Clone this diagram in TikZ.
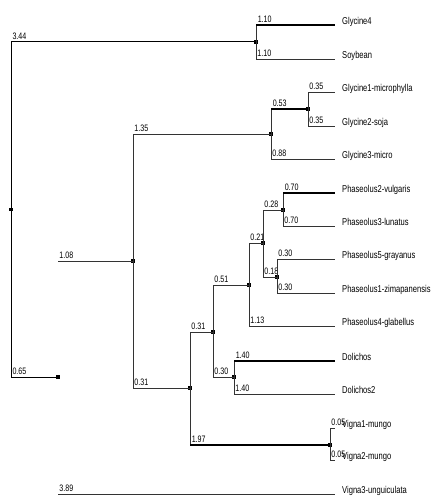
\documentclass[tikz,border=0pt]{standalone}
\usepackage{fontspec}
\newfontfamily\treefont[FakeStretch=0.76]{Liberation Sans}
\begin{document}
\begin{tikzpicture}[x=1bp,y=-1bp,
  br/.style={draw=black!80, line width=0.8bp},
  thk/.style={draw=black, line width=1.5bp},
  dot/.style={rectangle, fill=black, inner sep=0pt, minimum size=3.2bp},
  lbl/.style={font=\treefont\fontsize{9.4}{10}\selectfont, inner sep=0pt, anchor=south west, xshift=1bp, yshift=1.6bp},
  leaf/.style={font=\treefont\fontsize{10}{11}\selectfont, inner sep=0pt, anchor=base west, xshift=7bp, yshift=0.5bp}]
\useasboundingbox (0,0) rectangle (433,503);
% internal nodes
\node[dot] (R)   at (11,209.5) {};
\node[dot] (N0)  at (58,377) {};
\node[dot] (N1)  at (256,42) {};
\node[dot] (N2)  at (133,261) {};
\node[dot] (N3)  at (271,134) {};
\node[dot] (N5)  at (308,109) {};
\node[dot] (N4)  at (190,388) {};
\node[dot] (N6)  at (213,332) {};
\node[dot] (N8)  at (249,285) {};
\node[dot] (N10) at (263,243) {};
\node[dot] (N11) at (283,210) {};
\node[dot] (N12) at (277,277) {};
\node[dot] (N9)  at (234,377) {};
\node[dot] (N7)  at (330,445) {};
% leaf tips
\coordinate (g4) at (335,25);
\coordinate (sb) at (335,59);
\coordinate (g1) at (335,92);
\coordinate (g2) at (335,126);
\coordinate (g3) at (335,159);
\coordinate (p2) at (335,193);
\coordinate (p3) at (335,226);
\coordinate (p5) at (335,259);
\coordinate (p1) at (335,293);
\coordinate (p4) at (335,326);
\coordinate (d1) at (335,361);
\coordinate (d2) at (335,394);
\coordinate (v1) at (335,428);
\coordinate (v2) at (335,460);
\coordinate (v3) at (335,494);
% leaf texts
\node[leaf] (tg4) at (g4) {Glycine4};
\node[leaf] (tsb) at (sb) {Soybean};
\node[leaf] (tg1) at (g1) {Glycine1-microphylla};
\node[leaf] (tg2) at (g2) {Glycine2-soja};
\node[leaf] (tg3) at (g3) {Glycine3-micro};
\node[leaf] (tp2) at (p2) {Phaseolus2-vulgaris};
\node[leaf] (tp3) at (p3) {Phaseolus3-lunatus};
\node[leaf] (tp5) at (p5) {Phaseolus5-grayanus};
\node[leaf] (tp1) at (p1) {Phaseolus1-zimapanensis};
\node[leaf] (tp4) at (p4) {Phaseolus4-glabellus};
\node[leaf] (td1) at (d1) {Dolichos};
\node[leaf] (td2) at (d2) {Dolichos2};
\node[leaf] (tv1) at (v1) {Vigna1-mungo};
\node[leaf] (tv2) at (v2) {Vigna2-mungo};
\node[leaf] (tv3) at (v3) {Vigna3-unguiculata};
% root
\draw[thk,line width=1bp] (R.center) |- node[lbl]{3.44} (N1.center);
\draw[thk,line width=1bp] (R.center) |- node[lbl]{0.65} (N0.center);
% N0 children (no vertical drawn)
\draw[br] (N0 |- N2) -- node[lbl,pos=0]{1.08} (N2.center);
\draw[br] (N0 |- v3) -- node[lbl,pos=0]{3.89} (v3);
% N1
\draw[br] (N1.center) -- (N1 |- g4);
\draw[thk] (N1 |- g4) -- node[lbl,pos=0]{1.10} (g4);
\draw[br] (N1.center) |- node[lbl]{1.10} (sb);
% N2
\draw[br] (N2.center) |- node[lbl]{1.35} (N3.center);
\draw[br] (N2.center) |- node[lbl]{0.31} (N4.center);
% N3
\draw[br] (N3.center) -- (N3 |- N5);
\draw[thk] (N3 |- N5) -- node[lbl,pos=0]{0.53} (N5.center);
\draw[br] (N3.center) |- node[lbl]{0.88} (g3);
% N5
\draw[br] (N5.center) |- node[lbl]{0.35} (g1);
\draw[br] (N5.center) |- node[lbl]{0.35} (g2);
% N4
\draw[br] (N4.center) |- node[lbl]{0.31} (N6.center);
\draw[br] (N4.center) -- (N4 |- N7);
\draw[thk] (N4 |- N7) -- node[lbl,pos=0]{1.97} (N7.center);
% N6
\draw[br] (N6.center) |- node[lbl]{0.51} (N8.center);
\draw[br] (N6.center) |- node[lbl]{0.30} (N9.center);
% N8
\draw[br] (N8.center) |- node[lbl]{0.21} (N10.center);
\draw[br] (N8.center) |- node[lbl]{1.13} (p4);
% N10
\draw[br] (N10.center) |- node[lbl]{0.28} (N11.center);
\draw[br] (N10.center) |- node[lbl]{0.18} (N12.center);
% N11
\draw[br] (N11.center) -- (N11 |- p2);
\draw[thk] (N11 |- p2) -- node[lbl,pos=0]{0.70} (p2);
\draw[br] (N11.center) |- node[lbl]{0.70} (p3);
% N12
\draw[br] (N12.center) |- node[lbl]{0.30} (p5);
\draw[br] (N12.center) |- node[lbl]{0.30} (p1);
% N9
\draw[br] (N9.center) -- (N9 |- d1);
\draw[thk] (N9 |- d1) -- node[lbl,pos=0]{1.40} (d1);
\draw[br] (N9.center) |- node[lbl]{1.40} (d2);
% N7
\draw[br] (N7.center) |- node[lbl]{0.05} (v1);
\draw[br] (N7.center) |- node[lbl]{0.05} (v2);
\end{tikzpicture}
\end{document}
